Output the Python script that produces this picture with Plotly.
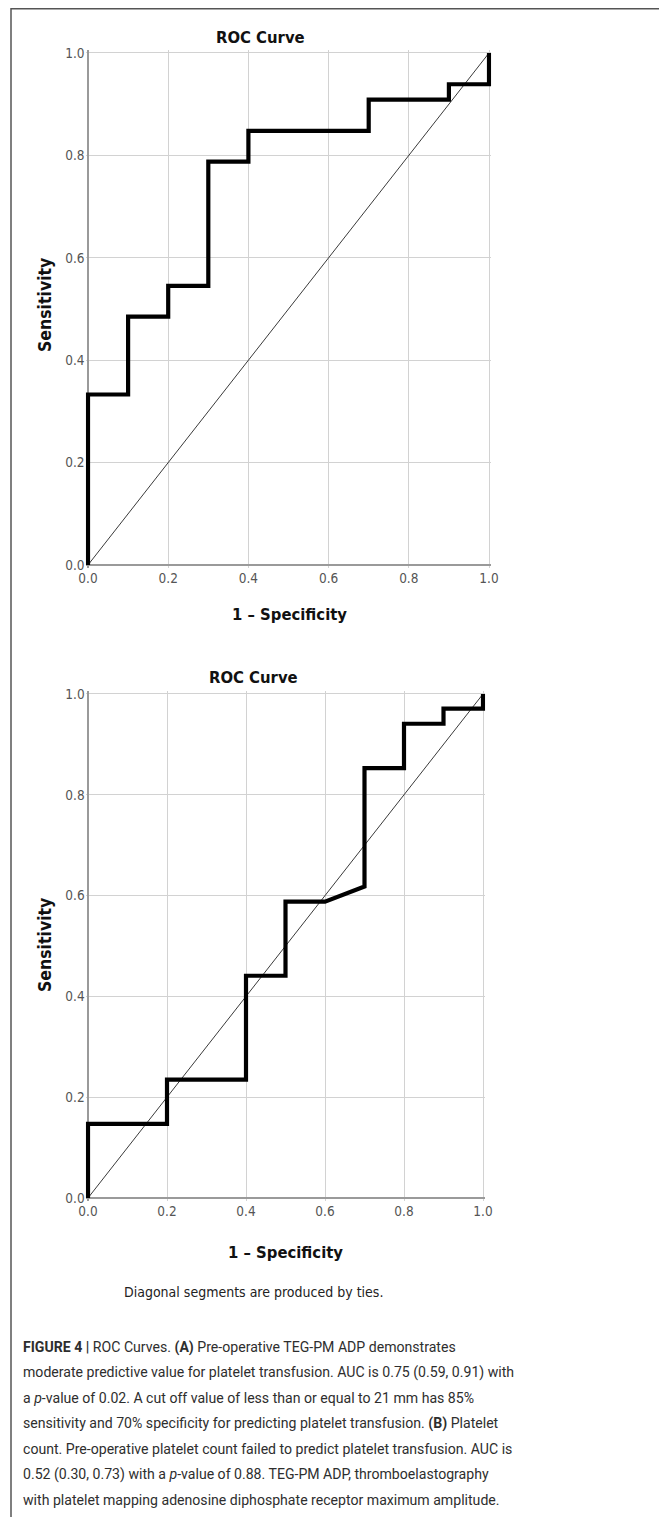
import plotly.graph_objects as go

# ---- data ----
ticks = [0.0, 0.2, 0.4, 0.6, 0.8, 1.0]
tick_labels = ["0.0", "0.2", "0.4", "0.6", "0.8", "1.0"]

fpr_a = [0.0, 0.0, 0.1, 0.1, 0.2, 0.2, 0.3, 0.3, 0.4, 0.4, 0.7, 0.7, 0.9, 0.9, 1.0, 1.0]
tpr_a = [0.0, 0.333, 0.333, 0.485, 0.485, 0.545, 0.545, 0.788, 0.788, 0.848, 0.848, 0.909, 0.909, 0.939, 0.939, 1.0]

fpr_b = [0.0, 0.0, 0.2, 0.2, 0.4, 0.4, 0.5, 0.5, 0.6, 0.7, 0.7, 0.8, 0.8, 0.9, 0.9, 1.0, 1.0]
tpr_b = [0.0, 0.147, 0.147, 0.235, 0.235, 0.441, 0.441, 0.588, 0.588, 0.618, 0.853, 0.853, 0.941, 0.941, 0.971, 0.971, 1.0]

ref_x = [0.0, 1.0]
ref_y = [0.0, 1.0]

chart_title = "ROC Curve"
x_title = "1 \u2013 Specificity"
y_title = "Sensitivity"
note = "Diagonal segments are produced by ties."
caption_lines = [
    "<b>FIGURE 4 |</b> ROC Curves. <b>(A)</b> Pre-operative TEG-PM ADP demonstrates",
    "moderate predictive value for platelet transfusion. AUC is 0.75 (0.59, 0.91) with",
    "a <i>p</i>-value of 0.02. A cut off value of less than or equal to 21 mm has 85%",
    "sensitivity and 70% specificity for predicting platelet transfusion. <b>(B)</b> Platelet",
    "count. Pre-operative platelet count failed to predict platelet transfusion. AUC is",
    "0.52 (0.30, 0.73) with a <i>p</i>-value of 0.88. TEG-PM ADP, thromboelastography",
    "with platelet mapping adenosine diphosphate receptor maximum amplitude.",
]

# ---- geometry: the page body has an 8px default margin, so work in page pixels
PAGE_W, PAGE_H = 667, 1517
OFF = 8
W, H = PAGE_W - OFF, PAGE_H - OFF

CHART_FONT = "DejaVu Sans Condensed, DejaVu Sans, sans-serif"
CAP_FONT = "Roboto, Liberation Sans, Arial, sans-serif"
PAD = 0.006


def px_x(p):
    return (p - OFF) / W


def px_y(p):
    return 1 - (p - OFF) / H


def domains(x0, x1, y1, y0):
    wx = x1 - x0
    wy = y0 - y1
    dx = [px_x(x0 - PAD * wx), px_x(x1 + PAD * wx)]
    dy = [px_y(y0 + PAD * wy), px_y(y1 - PAD * wy)]
    return dx, dy


dxa, dya = domains(88, 489, 53, 565)
dxb, dyb = domains(88, 483, 694, 1198)

fig = go.Figure()

for curve_x, curve_y, xa, ya in [(fpr_a, tpr_a, "x", "y"), (fpr_b, tpr_b, "x2", "y2")]:
    fig.add_trace(go.Scatter(x=ref_x, y=ref_y, mode="lines", xaxis=xa, yaxis=ya,
                             line=dict(color="#3a3a3a", width=1), hoverinfo="skip",
                             showlegend=False))
    fig.add_trace(go.Scatter(x=curve_x, y=curve_y, mode="lines", xaxis=xa, yaxis=ya,
                             line=dict(color="#000000", width=4.2), showlegend=False))

axis_common = dict(
    range=[-PAD, 1 + PAD], tickvals=ticks, ticktext=tick_labels,
    showgrid=True, gridcolor="#d2d2d2", gridwidth=1,
    zeroline=True, zerolinecolor="#9a9a9a", zerolinewidth=2,
    showline=False, ticks="", fixedrange=True,
    tickfont=dict(family=CHART_FONT, size=13.5, color="#555555"),
)

fig.update_layout(
    width=W, height=H,
    margin=dict(l=0, r=0, t=0, b=0, autoexpand=False),
    paper_bgcolor="white", plot_bgcolor="white",
    xaxis=dict(domain=dxa, anchor="y", **axis_common),
    yaxis=dict(domain=dya, anchor="x", **axis_common),
    xaxis2=dict(domain=dxb, anchor="y2", **axis_common),
    yaxis2=dict(domain=dyb, anchor="x2", **axis_common),
)

ann = []
title_font = dict(family=CHART_FONT, size=16.5, color="#111111")
for tx, ty, xt_x, xt_y, yt_x, yt_y in [(260, 37, 289, 615, 45, 305), (254, 677, 285, 1252, 45, 945)]:
    ann.append(dict(text="<b>" + chart_title + "</b>", x=px_x(tx), y=px_y(ty), xref="paper", yref="paper",
                    showarrow=False, xanchor="center", yanchor="middle", font=title_font))
    ann.append(dict(text="<b>" + x_title + "</b>", x=px_x(xt_x), y=px_y(xt_y), xref="paper", yref="paper",
                    showarrow=False, xanchor="center", yanchor="middle", font=title_font))
    ann.append(dict(text="<b>" + y_title + "</b>", x=px_x(yt_x), y=px_y(yt_y), xref="paper", yref="paper",
                    showarrow=False, xanchor="center", yanchor="middle", textangle=-90,
                    font=dict(family=CHART_FONT, size=17.5, color="#111111")))

ann.append(dict(text=note, x=px_x(254), y=px_y(1292), xref="paper", yref="paper",
                showarrow=False, xanchor="center", yanchor="middle",
                font=dict(family=CHART_FONT, size=14, color="#222222")))

for i, line in enumerate(caption_lines):
    ann.append(dict(text=line, x=px_x(21), y=px_y(1347 + 25.5 * i), xref="paper", yref="paper",
                    showarrow=False, xanchor="left", yanchor="middle",
                    font=dict(family=CAP_FONT, size=14.1, color="#2e2e2e")))

fig.update_layout(annotations=ann)

# figure frame (top and left rules)
fig.add_shape(type="line", xref="paper", yref="paper", x0=px_x(11), x1=1, y0=1 - 0.8 / H, y1=1 - 0.8 / H,
              line=dict(color="#555555", width=1.5))
fig.add_shape(type="line", xref="paper", yref="paper", x0=px_x(11), x1=px_x(11), y0=1, y1=0,
              line=dict(color="#555555", width=1.5))

fig.write_html("out.html")
